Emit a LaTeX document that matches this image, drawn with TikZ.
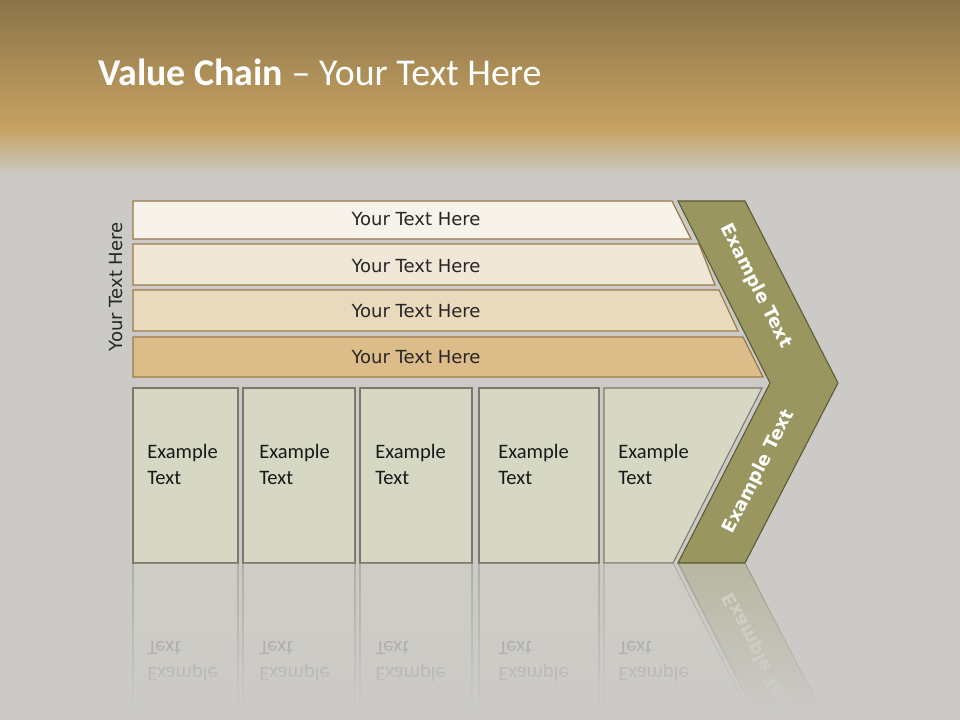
\documentclass[tikz,border=0pt]{standalone}
\usepackage{fontspec}
\setmainfont{Carlito}
\newfontfamily\vfont{DejaVu Sans}
\usetikzlibrary{fadings}
\definecolor{bgtop}{HTML}{8B7449}
\definecolor{bggold}{HTML}{C6A262}
\definecolor{bgsand}{HTML}{D9D1C3}
\definecolor{bggrey}{HTML}{CBCAC7}
\definecolor{barone}{HTML}{F7F2EA}
\definecolor{bartwo}{HTML}{F1E7D7}
\definecolor{barthree}{HTML}{E9D9BD}
\definecolor{barfour}{HTML}{DCBD89}
\definecolor{barline}{HTML}{9A7A48}
\definecolor{boxfill}{HTML}{D7D8C3}
\definecolor{boxline}{HTML}{7A7A6C}
\definecolor{chevfill}{HTML}{99975F}
\definecolor{chevline}{HTML}{5B5936}
\tikzfading[name=reflfade, top color=transparent!100, bottom color=transparent!0]
\tikzset{
  vbar/.style={draw=barline, line width=0.9pt},
  vbartext/.style={font=\vfont\fontsize{13.5}{16}\selectfont, text=black!85, inner sep=0pt},
  vcell/.style={draw=boxline, fill=boxfill, line width=0.8pt},
  vcelltext/.style={font=\fontsize{15.4}{19.5}\selectfont, align=left, anchor=north west, inner sep=0pt, text=black!90},
  vchev/.style={draw=chevline, fill=chevfill, line width=0.8pt},
  vchevtext/.style={font=\vfont\bfseries\fontsize{13.6}{16}\selectfont, text=white, inner sep=0pt},
  vtitle/.style={font=\fontsize{28.4}{33}\selectfont, text=white, anchor=base west, inner sep=0pt}
}

\begin{document}
\begin{tikzpicture}[x=0.75pt,y=-0.75pt]
\useasboundingbox (0,0) rectangle (960,720);
% background
\shade[top color=bgtop, bottom color=bggold] (0,0) rectangle (960,128);
\shade[top color=bggold, middle color=bgsand, bottom color=bggrey] (0,128) rectangle (960,176);
\fill[bggrey] (0,176) rectangle (960,720);
\node[vtitle] (title) at (98,86) {\textbf{Value Chain} -- Your Text Here};
% four bars
\draw[vbar, fill=barone] (133,201) -- (672,201) -- (691,239) -- (133,239) -- cycle;
\draw[vbar, fill=bartwo] (133,244) -- (699,244) -- (715,285) -- (133,285) -- cycle;
\draw[vbar, fill=barthree] (133,290) -- (719,290) -- (738,331) -- (133,331) -- cycle;
\draw[vbar, fill=barfour] (133,337) -- (743,337) -- (763,377) -- (133,377) -- cycle;
\node[vbartext] (barA) at (416,219) {Your Text Here};
\node[vbartext] (barB) at (416,266) {Your Text Here};
\node[vbartext] (barC) at (416,311) {Your Text Here};
\node[vbartext] (barD) at (416,357) {Your Text Here};
\node[vbartext, rotate=90] (side) at (116,287) {Your Text Here};
% chevron
\draw[vchev] (678,201) -- (745,201) -- (838,383) -- (745,563) -- (678,563) -- (770,383) -- cycle;
\node[vchevtext, rotate=-63.2] (chevA) at (756,286) {Example Text};
\node[vchevtext, rotate=63.2] (chevB) at (759,472) {Example Text};
% five cells
\draw[vcell] (133,388) rectangle (238,563);
\draw[vcell] (243,388) rectangle (355,563);
\draw[vcell] (360,388) rectangle (472,563);
\draw[vcell] (479,388) rectangle (599,563);
\draw[vcell] (604,388) -- (762,388) -- (673,563) -- (604,563) -- cycle;
\node[vcelltext] (cellA) at (147,444) {Example\\Text};
\node[vcelltext] (cellB) at (259,444) {Example\\Text};
\node[vcelltext] (cellC) at (375,444) {Example\\Text};
\node[vcelltext] (cellD) at (498,444) {Example\\Text};
\node[vcelltext] (cellE) at (618,444) {Example\\Text};
% reflection
\begin{scope}[yshift=-844.5pt, yscale=-1, opacity=0.35]
  \draw[vchev] (770,383) -- (838,383) -- (745,563) -- (678,563) -- cycle;
  \node[vchevtext, rotate=63.2, transform shape] (chevR) at (759,472) {Example Text};
  \draw[vcell] (133,388) rectangle (238,563);
  \draw[vcell] (243,388) rectangle (355,563);
  \draw[vcell] (360,388) rectangle (472,563);
  \draw[vcell] (479,388) rectangle (599,563);
  \draw[vcell] (604,388) -- (762,388) -- (673,563) -- (604,563) -- cycle;
  \foreach \cx/\nm in {147/A,259/B,375/C,498/D,618/E}
    \node[vcelltext, transform shape] (refl\nm) at (\cx,444) {Example\\Text};
\end{scope}
\fill[bggrey, path fading=reflfade] (0,564) rectangle (960,712);
\fill[bggrey] (0,712) rectangle (960,720);
\end{tikzpicture}
\end{document}
